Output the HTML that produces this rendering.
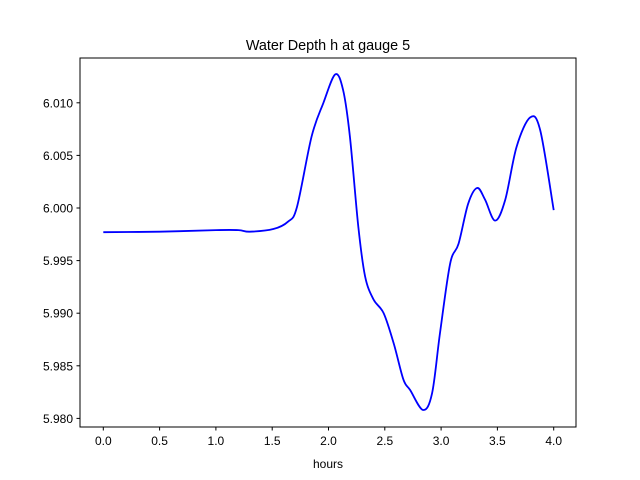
<!DOCTYPE html>
<html><head><meta charset="utf-8"><style>
html,body{margin:0;padding:0;background:#fff;}
svg{display:block;font-family:"Liberation Sans","DejaVu Sans",sans-serif;}
</style></head><body>
<svg id="chart" width="640" height="480">
<rect x="0" y="0" width="640" height="480" fill="#fff"/>
<text x="328" y="50" text-anchor="middle" font-size="14.4">Water Depth h at gauge 5</text>
<g id="axes"></g>
<path id="series" fill="none" stroke="#0000ff" stroke-width="1.8" stroke-linejoin="round"/>
<rect x="80" y="58" width="496" height="369" fill="none" stroke="#000" stroke-width="1"/>
<text x="328" y="468" text-anchor="middle" font-size="12">hours</text>
</svg>
<script>
const hours = [0,0.5,1.0,1.2,1.3,1.51,1.64,1.72,1.85,1.955,2.06,2.13,2.19,2.265,2.325,2.40,2.49,2.58,2.665,2.725,2.84,2.92,2.99,3.08,3.155,3.24,3.32,3.39,3.48,3.57,3.67,3.79,3.88,4.0];
const depth = [5.9977,5.99775,5.9979,5.9979,5.99775,5.9980,5.9987,6.0001,6.0068,6.0100,6.0127,6.0112,6.0068,5.9982,5.9935,5.9913,5.9900,5.9871,5.9837,5.9827,5.9808,5.9824,5.9881,5.9947,5.9966,6.0004,6.0019,6.0008,5.9988,6.0008,6.0058,6.0086,6.0074,5.9998];
const xTicks = [0,0.5,1.0,1.5,2.0,2.5,3.0,3.5,4.0];
const xTickLabels = ["0.0","0.5","1.0","1.5","2.0","2.5","3.0","3.5","4.0"];
const yTicks = [5.980,5.985,5.990,5.995,6.000,6.005,6.010];
const yTickLabels = ["5.980","5.985","5.990","5.995","6.000","6.005","6.010"];

const xs = t => 103.3 + t*112.6;
const ys = v => 208 - (v-6.0)*10520;
const NS="http://www.w3.org/2000/svg";
const g=document.getElementById('axes');
xTicks.forEach((t,i)=>{
  const l=document.createElementNS(NS,'line');
  l.setAttribute('x1',xs(t));l.setAttribute('x2',xs(t));l.setAttribute('y1',427);l.setAttribute('y2',430.5);l.setAttribute('stroke','#000');
  
  
  g.appendChild(l);
  const tx=document.createElementNS(NS,'text');
  tx.setAttribute('x',xs(t));tx.setAttribute('y',445);tx.setAttribute('text-anchor','middle');tx.setAttribute('font-size','12');
  tx.textContent=xTickLabels[i];
  
  
  g.appendChild(tx);
});
yTicks.forEach((v,i)=>{
  const l=document.createElementNS(NS,'line');
  l.setAttribute('x1',76.5);l.setAttribute('x2',80);l.setAttribute('y1',ys(v));l.setAttribute('y2',ys(v));l.setAttribute('stroke','#000');
  
  
  g.appendChild(l);
  const tx=document.createElementNS(NS,'text');
  tx.setAttribute('x',73);tx.setAttribute('y',ys(v)+4.5);tx.setAttribute('text-anchor','end');tx.setAttribute('font-size','12');
  tx.textContent=yTickLabels[i];
  
  
  g.appendChild(tx);
});
// Catmull-Rom smooth path
const P=hours.map((t,i)=>[xs(t),ys(depth[i])]);
let d=`M${P[0][0]},${P[0][1]}`;
for(let i=0;i<P.length-1;i++){
  const p0=P[Math.max(0,i-1)],p1=P[i],p2=P[i+1],p3=P[Math.min(P.length-1,i+2)];
  const c1=[p1[0]+(p2[0]-p0[0])/6,p1[1]+(p2[1]-p0[1])/6];
  const c2=[p2[0]-(p3[0]-p1[0])/6,p2[1]-(p3[1]-p1[1])/6];
  d+=` C${c1[0]},${c1[1]} ${c2[0]},${c2[1]} ${p2[0]},${p2[1]}`;
}
document.getElementById('series').setAttribute('d',d);
</script>
</body></html>
